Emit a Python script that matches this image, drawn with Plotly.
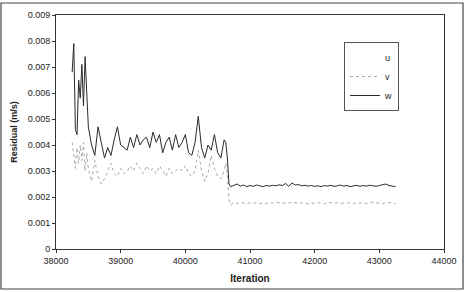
import plotly.graph_objects as go

iterations = [38250, 38275, 38300, 38325, 38350, 38375, 38400, 38425, 38450, 38475, 38500,
              38550, 38600, 38650, 38700, 38750, 38800, 38850, 38900, 38950, 39000,
              39050, 39100, 39150, 39200, 39250, 39300, 39350, 39400, 39450, 39500,
              39550, 39600, 39650, 39700, 39750, 39800, 39850, 39900, 39950, 40000,
              40050, 40100, 40150, 40200, 40250, 40300, 40350, 40400, 40450, 40500,
              40550, 40600, 40625, 40650, 40675, 40700,
              40750, 40800, 40850, 40900, 40950, 41000, 41050, 41100, 41150, 41200,
              41250, 41300, 41350, 41400, 41450, 41500, 41550, 41600, 41650, 41700,
              41750, 41800, 41850, 41900, 41950, 42000, 42050, 42100, 42150, 42200,
              42250, 42300, 42350, 42400, 42450, 42500, 42550, 42600, 42650, 42700,
              42750, 42800, 42850, 42900, 42950, 43000, 43050, 43100, 43150, 43200, 43250]

w = [0.0068, 0.0079, 0.0046, 0.0044, 0.0065, 0.0058, 0.0071, 0.0055, 0.0074, 0.0062, 0.0047,
     0.0040, 0.0036, 0.0047, 0.0041, 0.0035, 0.0039, 0.0036, 0.0042, 0.0047, 0.0040,
     0.0039, 0.0038, 0.0043, 0.0039, 0.0044, 0.0040, 0.0042, 0.0043, 0.0039, 0.0045,
     0.0041, 0.0044, 0.0037, 0.0041, 0.0043, 0.0038, 0.0044, 0.0039, 0.0041, 0.0044,
     0.0037, 0.0036, 0.0041, 0.0051, 0.0039, 0.0035, 0.0040, 0.0038, 0.0044, 0.0037,
     0.0035, 0.0042, 0.0041, 0.0035, 0.0025, 0.0024,
     0.00245, 0.00250, 0.00242, 0.00246, 0.00240, 0.00244, 0.00241, 0.00246, 0.00243, 0.00240,
     0.00244, 0.00242, 0.00245, 0.00243, 0.00247, 0.00244, 0.00252, 0.00241, 0.00254, 0.00246,
     0.00248, 0.00243, 0.00245, 0.00242, 0.00244, 0.00241, 0.00243, 0.00240, 0.00244, 0.00242,
     0.00245, 0.00241, 0.00243, 0.00246, 0.00242, 0.00244, 0.00240, 0.00243, 0.00245, 0.00241,
     0.00244, 0.00242, 0.00245, 0.00243, 0.00241, 0.00244, 0.00247, 0.00250, 0.00244, 0.00242, 0.00240]

v = [0.0041, 0.0036, 0.0031, 0.0039, 0.0033, 0.0040, 0.0034, 0.0041, 0.0030, 0.0037, 0.0031,
     0.0026, 0.0034, 0.0028, 0.0025, 0.0027, 0.0030, 0.0033, 0.0029, 0.0028, 0.0031,
     0.0029, 0.0030, 0.0032, 0.0030, 0.0033, 0.0031, 0.0029, 0.0032, 0.0030, 0.0031,
     0.0029, 0.0032, 0.0030, 0.0028, 0.0031, 0.0029, 0.0030, 0.0031, 0.0030, 0.0032,
     0.0029, 0.0028, 0.0030, 0.0038, 0.0030, 0.0026, 0.0029, 0.0036, 0.0031, 0.0028,
     0.0027, 0.0030, 0.0033, 0.0028, 0.0019, 0.0017,
     0.00178, 0.00175, 0.00180, 0.00176, 0.00174, 0.00178, 0.00176, 0.00179, 0.00175, 0.00177,
     0.00174, 0.00178, 0.00176, 0.00180, 0.00177, 0.00175, 0.00179, 0.00176, 0.00181, 0.00177,
     0.00175, 0.00178, 0.00176, 0.00174, 0.00177, 0.00175, 0.00178, 0.00176, 0.00174, 0.00177,
     0.00179, 0.00176, 0.00178, 0.00175, 0.00177, 0.00176, 0.00179, 0.00175, 0.00177, 0.00176,
     0.00178, 0.00175, 0.00177, 0.00180, 0.00176, 0.00178, 0.00175, 0.00177, 0.00179, 0.00176, 0.00175]

u = w  # u is not visible in the reference (drawn in white beneath w)

y_ticks = [0, 0.001, 0.002, 0.003, 0.004, 0.005, 0.006, 0.007, 0.008, 0.009]
y_labels = ["0", "0.001", "0.002", "0.003", "0.004", "0.005", "0.006", "0.007", "0.008", "0.009"]
x_ticks = [38000, 39000, 40000, 41000, 42000, 43000, 44000]

FONT = "Liberation Sans, Arial, sans-serif"

fig = go.Figure()
fig.add_trace(go.Scatter(x=iterations, y=u, name="u", mode="lines",
                         line=dict(color="white", width=1)))
fig.add_trace(go.Scatter(x=iterations, y=v, name="v", mode="lines",
                         line=dict(color="#a8a8a8", width=1, dash="dot")))
fig.add_trace(go.Scatter(x=iterations, y=w, name="w", mode="lines",
                         line=dict(color="#2a2a2a", width=1)))

L, R, T, B = 56, 444, 15, 249
W, H = 468, 292
pw, ph = R - L, B - T


def px(xp):
    return (xp - L) / pw


def py(yp):
    return (B - yp) / ph


fig.add_shape(type="rect", xref="paper", yref="paper",
              x0=px(1), x1=px(463), y0=py(289), y1=py(3),
              line=dict(color="#444", width=1.2), layer="below")

fig.update_layout(
    width=W, height=H,
    margin=dict(l=L, r=W - R, t=T, b=H - B),
    paper_bgcolor="white", plot_bgcolor="white",
    font=dict(family=FONT, size=9, color="#222"),
    showlegend=True,
    legend=dict(x=px(399), xanchor="right", y=py(42), yanchor="top",
                bordercolor="#555", borderwidth=1, bgcolor="white",
                font=dict(size=9), itemwidth=30, tracegroupgap=0),
)
fig.update_xaxes(range=[38000, 44000], tickvals=x_ticks, tickformat="d",
                 showgrid=False, zeroline=False, automargin=False,
                 showline=True, linecolor="#333", linewidth=1, mirror=True,
                 ticks="outside", ticklen=3, tickcolor="#333",
                 title=dict(text="<b>Iteration</b>", font=dict(size=10), standoff=10))
fig.update_yaxes(range=[0, 0.009], tickvals=y_ticks, ticktext=y_labels,
                 showgrid=False, zeroline=False, automargin=False,
                 showline=True, linecolor="#333", linewidth=1, mirror=True,
                 ticks="outside", ticklen=3, tickcolor="#333",
                 title=dict(text="<b>Residual (m/s)</b>", font=dict(size=9), standoff=8))

fig.write_html("out.html")
